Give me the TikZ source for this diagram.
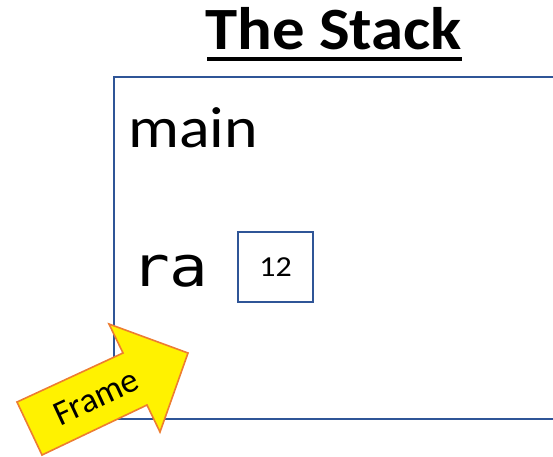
\documentclass[tikz,border=0pt]{standalone}
\usepackage{fontspec}
\setmainfont{Carlito}
\newfontfamily\monofnt{DejaVu Sans Mono}
\definecolor{frameblue}{HTML}{2F5597}
\definecolor{arroworange}{HTML}{ED7D31}
\newcommand{\wider}[1]{\scalebox{1.1}[1]{#1}}
\begin{document}
\begin{tikzpicture}[x=1pt,y=-1pt,
  framebox/.style={draw=frameblue,line width=1.6pt},
  valbox/.style={draw=frameblue,line width=1.6pt,minimum width=75pt,minimum height=70pt,inner sep=0pt},
  calloutarrow/.style={fill=yellow,draw=arroworange,line width=1.6pt,line join=miter}]
\useasboundingbox (0,0) rectangle (553,456);
\clip (0,0) rectangle (553,456);
\fill[white] (0,0) rectangle (553,456);
% title
\node[anchor=base west,inner sep=0pt,font=\fontsize{60}{60}\selectfont\bfseries] (title) at (205,49) {\scalebox{1.08}[1]{The Stack}};
\draw[line width=3.5pt] (207,59) -- (462,59);
% frame
\draw[framebox] (114,77) rectangle (570,419);
\node[anchor=base west,inner sep=0pt,font=\fontsize{58}{58}\selectfont] (main) at (128,147) {\wider{main}};
\node[anchor=base west,inner sep=0pt,font=\fontsize{56}{56}\selectfont\monofnt] (ra) at (131,286) {\scalebox{1.15}[1]{ra}};
\node[valbox,font=\fontsize{29}{29}\selectfont] (val) at (275.5,267) {\wider{12}};
% arrow
\draw[calloutarrow] (17,402) -- (123,353) -- (109,324) -- (188,353) -- (160,432) -- (147,405) -- (42,455) -- cycle;
\node[rotate=25,font=\fontsize{35}{35}\selectfont,inner sep=0pt] (framelabel) at (96,397) {Frame};
\end{tikzpicture}
\end{document}
